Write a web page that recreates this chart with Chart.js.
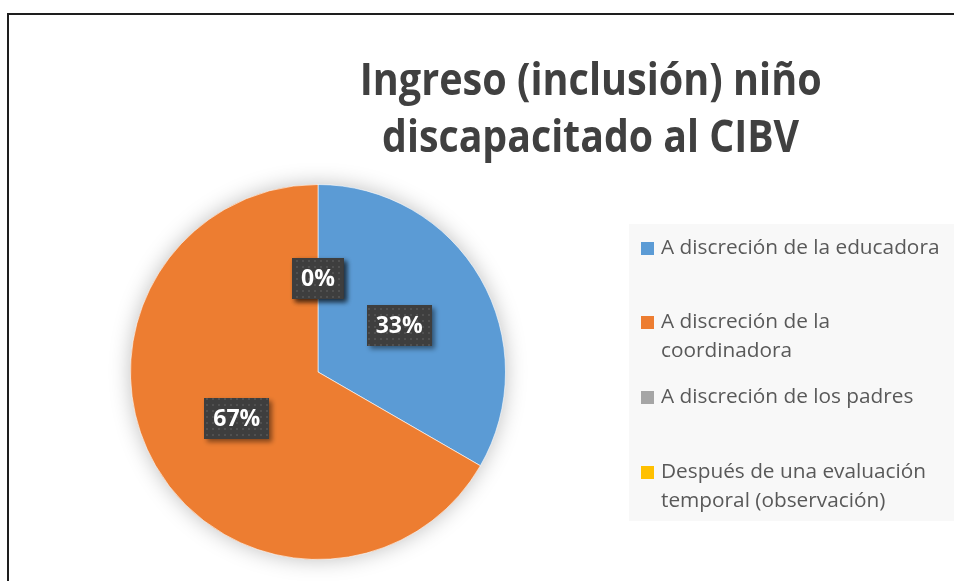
<!DOCTYPE html>
<html>
<head>
<meta charset="utf-8">
<script src="https://cdn.jsdelivr.net/npm/chart.js@4.4.1/dist/chart.umd.min.js"></script>
<style>
  html,body{margin:0;padding:0;background:#fff;}
  #wrap{position:relative;width:954px;height:581px;overflow:hidden;background:#fff;}
  #frame{position:absolute;left:7px;top:13px;width:960px;height:600px;border-top:2px solid #1e1e1e;border-left:2px solid #1e1e1e;box-sizing:border-box;}
  #c{position:absolute;left:0;top:0;}
  .title{position:absolute;left:0;width:954px;height:57px;font-family:"Open Sans",sans-serif;font-weight:700;font-size:44px;line-height:57px;color:#404040;white-space:nowrap;}
  .title span{display:inline-block;transform-origin:center center;}
  #legend{position:absolute;left:629px;top:224px;width:325px;height:297px;background:#f8f8f8;}
  .li{position:absolute;left:12px;width:310px;font-family:"Open Sans",sans-serif;font-size:20.8px;line-height:29px;color:#595959;}
  .li .sw{position:absolute;left:0;top:10px;width:13px;height:13px;}
  .li .tx{position:absolute;left:20px;width:285px;white-space:normal;}
</style>
</head>
<body>
<div id="wrap">
  <canvas id="c" width="954" height="581"></canvas>
  <div id="frame"></div>
  <div id="titleBox"></div>
  <div id="legend"></div>
</div>
<script>
// ---- data ----
const titleLines = ["Ingreso (inclusión) niño", "discapacitado al CIBV"];
const categories = [
  "A discreción de la educadora",
  "A discreción de la coordinadora",
  "A discreción de los padres",
  "Después de una evaluación temporal (observación)"
];
const counts = [1, 2, 0, 0];
const colors = ["#5B9BD5", "#ED7D31", "#A5A5A5", "#FFC000"];

// ---- layout (style only) ----
const titleCenterX = 591;
const titleTops = [50, 107];
const titleWidths = [462, 417];
const legendItemTops = [8, 82, 157, 232]; // relative to legend box

// title
const tb = document.getElementById('titleBox');
titleLines.forEach((t, i) => {
  const d = document.createElement('div');
  d.className = 'title';
  d.style.top = titleTops[i] + 'px';
  const s = document.createElement('span');
  s.textContent = t;
  d.appendChild(s);
  tb.appendChild(d);
  const w = s.getBoundingClientRect().width;
  const k = titleWidths[i] / w;
  s.style.transform = 'scaleX(' + k + ')';
  s.style.position = 'absolute';
  s.style.left = (titleCenterX - w / 2) + 'px';
});

// legend
const lg = document.getElementById('legend');
categories.forEach((c, i) => {
  const it = document.createElement('div');
  it.className = 'li';
  it.style.top = legendItemTops[i] + 'px';
  const sw = document.createElement('div');
  sw.className = 'sw';
  sw.style.background = colors[i];
  const tx = document.createElement('div');
  tx.className = 'tx';
  tx.textContent = c;
  it.appendChild(sw); it.appendChild(tx);
  lg.appendChild(it);
});

// dotted dark pattern for data labels
function makePattern(ctx) {
  const p = document.createElement('canvas');
  p.width = 6; p.height = 6;
  const pc = p.getContext('2d');
  pc.fillStyle = '#3e3e3e';
  pc.fillRect(0, 0, 6, 6);
  pc.fillStyle = '#505050';
  pc.fillRect(2, 2, 2, 2);
  return ctx.createPattern(p, 'repeat');
}

const total = counts.reduce((a, b) => a + b, 0);

const shadowPlugin = {
  id: 'pieShadow',
  beforeDatasetsDraw(chart) {
    const meta = chart.getDatasetMeta(0);
    const a = meta.data[0];
    if (!a) return;
    const ctx = chart.ctx;
    ctx.save();
    ctx.shadowColor = 'rgba(0,0,0,0.28)';
    ctx.shadowBlur = 22;
    ctx.shadowOffsetX = 0;
    ctx.shadowOffsetY = 0;
    ctx.fillStyle = '#ffffff';
    ctx.beginPath();
    ctx.arc(a.x, a.y, a.outerRadius - 1, 0, Math.PI * 2);
    ctx.fill();
    ctx.restore();
  }
};

const labelPlugin = {
  id: 'boxLabels',
  afterDatasetsDraw(chart) {
    const ctx = chart.ctx;
    const meta = chart.getDatasetMeta(0);
    const pat = makePattern(ctx);
    const order = [2, 3, 0, 1];
    order.forEach(i => {
      const el = meta.data[i];
      const pos = el.tooltipPosition();
      const txt = Math.round(counts[i] / total * 100) + '%';
      ctx.save();
      ctx.font = '700 23px "Open Sans", sans-serif';
      const w = ctx.measureText(txt).width + 18;
      const h = 41;
      const x = Math.round(pos.x - w / 2), y = Math.round(pos.y - h / 2);
      ctx.shadowColor = 'rgba(0,0,0,0.45)';
      ctx.shadowBlur = 5;
      ctx.shadowOffsetX = 3;
      ctx.shadowOffsetY = 3;
      ctx.fillStyle = pat;
      ctx.fillRect(x, y, w, h);
      ctx.shadowColor = 'transparent';
      ctx.fillStyle = '#ffffff';
      ctx.textAlign = 'center';
      ctx.textBaseline = 'middle';
      ctx.fillText(txt, pos.x, pos.y + 1);
      ctx.restore();
    });
  }
};

new Chart(document.getElementById('c'), {
  type: 'pie',
  data: {
    labels: categories,
    datasets: [{
      data: counts,
      backgroundColor: colors,
      borderColor: 'rgba(255,255,255,0.6)',
      borderWidth: 1
    }]
  },
  options: {
    responsive: false,
    devicePixelRatio: 1,
    animation: false,
    layout: { padding: { left: 130, right: 448, top: 184, bottom: 21 } },
    plugins: {
      legend: { display: false },
      title: { display: false },
      tooltip: { enabled: false }
    }
  },
  plugins: [shadowPlugin, labelPlugin]
});
</script>
</body>
</html>
